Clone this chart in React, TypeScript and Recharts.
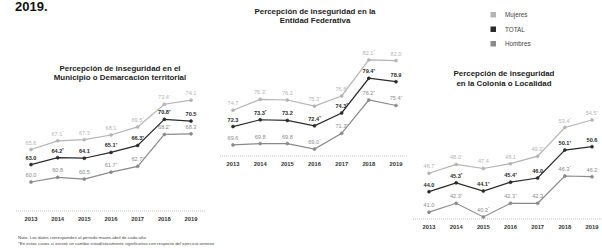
import React from 'react';
import { LineChart, Line, XAxis, YAxis, LabelList } from 'recharts';

const years = ['2013', '2014', '2015', '2016', '2017', '2018', '2019'];

// Municipio o Demarcación territorial
const municipioMujeres = [65.6, 67.1, 67.3, 68.1, 69.5, 73.4, 74.1];
const municipioTotal = [63.0, 64.2, 64.1, 65.1, 66.3, 70.8, 70.5];
const municipioHombres = [60.0, 60.8, 60.5, 61.7, 62.7, 68.2, 68.3];
const municipioMujeresSig = [0, 1, 0, 0, 1, 1, 0];
const municipioTotalSig = [0, 1, 0, 1, 1, 1, 0];
const municipioHombresSig = [0, 0, 0, 1, 1, 1, 0];

// Entidad Federativa
const entidadMujeres = [74.7, 76.3, 76.2, 75.3, 76.8, 82.1, 82.0];
const entidadTotal = [72.3, 73.3, 73.2, 72.4, 74.3, 79.4, 78.9];
const entidadHombres = [69.6, 69.8, 69.8, 69.0, 71.3, 76.2, 75.4];
const entidadMujeresSig = [0, 1, 0, 1, 1, 1, 0];
const entidadTotalSig = [0, 1, 0, 1, 1, 1, 0];
const entidadHombresSig = [0, 0, 0, 1, 1, 1, 1];

// Colonia o Localidad
const coloniaMujeres = [46.7, 48.0, 47.4, 48.1, 49.2, 53.4, 54.5];
const coloniaTotal = [44.0, 45.3, 44.1, 45.4, 46.0, 50.1, 50.6];
const coloniaHombres = [41.0, 42.3, 40.3, 42.3, 42.3, 46.3, 46.2];
const coloniaMujeresSig = [0, 1, 0, 0, 1, 1, 1];
const coloniaTotalSig = [0, 1, 1, 1, 0, 1, 0];
const coloniaHombresSig = [0, 1, 1, 1, 0, 1, 0];

const legendItems = ['Mujeres', 'TOTAL', 'Hombres'];

const FONT = '"Liberation Sans", Arial, sans-serif';
const C_MUJ = '#b4b4b4';
const C_TOT = '#2a2a2a';
const C_HOM = '#8a8a8a';
const legendColors = [C_MUJ, C_TOT, C_HOM];

const buildRows = (m: number[], t: number[], h: number[]) =>
  years.map((year, i) => ({ year, mujeres: m[i], total: t[i], hombres: h[i] }));

const makeLabel = (sig: number[], color: string, bold: boolean) => (props: any) => {
  const { x, y, value, index } = props;
  if (x == null || y == null) return null;
  return (
    <text
      x={x}
      y={y - 5}
      textAnchor="middle"
      fontSize={5.6}
      fontFamily={FONT}
      fontWeight={bold ? 'bold' : 'normal'}
      fill={color}
    >
      {Number(value).toFixed(1)}
      {sig[index] ? (
        <tspan fontSize={4.2} dy={-1.5}>
          *
        </tspan>
      ) : null}
    </text>
  );
};

const YearTick = (props: any) => {
  const { x, y, payload } = props;
  return (
    <text
      x={x}
      y={y + 9.5}
      textAnchor="middle"
      fontSize={5.8}
      fontWeight="bold"
      fontFamily={FONT}
      fill="#333"
    >
      {payload.value}
    </text>
  );
};

type PanelProps = {
  left: number;
  top: number;
  width: number;
  height: number;
  margin: { top: number; right: number; bottom: number; left: number };
  padding: { left: number; right: number };
  domain: [number, number];
  m: number[];
  t: number[];
  h: number[];
  mSig: number[];
  tSig: number[];
  hSig: number[];
};

const Panel = (p: PanelProps) => {
  const rows = buildRows(p.m, p.t, p.h);
  const series = [
    { key: 'mujeres', color: C_MUJ, sig: p.mSig, bold: false },
    { key: 'hombres', color: C_HOM, sig: p.hSig, bold: false },
    { key: 'total', color: C_TOT, sig: p.tSig, bold: true },
  ];
  return (
    <div style={{ position: 'absolute', left: p.left, top: p.top }}>
      <LineChart width={p.width} height={p.height} data={rows} margin={p.margin}>
        <XAxis
          dataKey="year"
          interval={0}
          tickLine={false}
          tickSize={0}
          tickMargin={0}
          height={14}
          padding={p.padding}
          axisLine={{ stroke: '#b0b0b0', strokeWidth: 0.8, strokeDasharray: '1 1' }}
          tick={<YearTick />}
        />
        <YAxis hide type="number" domain={p.domain} allowDataOverflow />
        {series.map((s) => (
          <Line
            key={s.key}
            dataKey={s.key}
            stroke={s.color}
            strokeWidth={1.2}
            dot={{ r: 1.5, fill: s.color, stroke: s.color, strokeWidth: 0.6 }}
            isAnimationActive={false}
          >
            <LabelList dataKey={s.key} content={makeLabel(s.sig, s.color, s.bold)} />
          </Line>
        ))}
      </LineChart>
    </div>
  );
};

const Title = ({ x, y, lines }: { x: number; y: number; lines: string[] }) => (
  <text x={x} y={y} textAnchor="middle" fontSize={7.9} fontWeight="bold" fontFamily={FONT} fill="#222">
    {lines.map((l, i) => (
      <tspan key={i} x={x} dy={i === 0 ? 0 : 9.8}>
        {l}
      </tspan>
    ))}
  </text>
);

export default function App() {
  return (
    <div
      style={{
        position: 'absolute',
        left: 0,
        top: 0,
        width: 602,
        height: 248,
        background: '#fff',
        overflow: 'hidden',
        fontFamily: FONT,
      }}
    >
      <svg width={602} height={248} style={{ position: 'absolute', left: 0, top: 0 }}>
        <text x={15} y={10.5} fontSize={13} fontWeight="bold" fontFamily={FONT} fill="#111">
          2019.
        </text>
        <Title x={120} y={70.5} lines={['Percepción de inseguridad en el', 'Municipio o Demarcación territorial']} />
        <Title x={315} y={13.5} lines={['Percepción de inseguridad en la', 'Entidad Federativa']} />
        <Title x={504} y={76} lines={['Percepción de inseguridad', 'en la Colonia o Localidad']} />
        {legendItems.map((name, i) => (
          <g key={name}>
            <rect x={490.5} y={12 + i * 14.5} width={5.5} height={5.5} fill={legendColors[i]} />
            <text x={505} y={17.3 + i * 14.5} fontSize={6.3} fontFamily={FONT} fill="#444">
              {name}
            </text>
          </g>
        ))}
        <text x={18} y={238.5} fontSize={4.4} fontFamily={FONT} fill="#444">
          Nota: Los datos corresponden al periodo marzo-abril de cada año.
        </text>
        <text x={18} y={245} fontSize={4.4} fontFamily={FONT} fill="#444">
          *En estos casos sí existió un cambio estadísticamente significativo con respecto del ejercicio anterior
        </text>
      </svg>
      <Panel
        left={0}
        top={85}
        width={215}
        height={140}
        margin={{ top: 5, right: 10, bottom: 0, left: 16 }}
        padding={{ left: 15, right: 14 }}
        domain={[55.0, 75.86]}
        m={municipioMujeres}
        t={municipioTotal}
        h={municipioHombres}
        mSig={municipioMujeresSig}
        tSig={municipioTotalSig}
        hSig={municipioHombresSig}
      />
      <Panel
        left={200}
        top={40}
        width={215}
        height={130}
        margin={{ top: 5, right: 7, bottom: 0, left: 20 }}
        padding={{ left: 13, right: 12 }}
        domain={[67.97, 84.29]}
        m={entidadMujeres}
        t={entidadTotal}
        h={entidadHombres}
        mSig={entidadMujeresSig}
        tSig={entidadTotalSig}
        hSig={entidadHombresSig}
      />
      <Panel
        left={400}
        top={95}
        width={202}
        height={138}
        margin={{ top: 5, right: 0, bottom: 0, left: 13 }}
        padding={{ left: 16, right: 10 }}
        domain={[40.0, 57.43]}
        m={coloniaMujeres}
        t={coloniaTotal}
        h={coloniaHombres}
        mSig={coloniaMujeresSig}
        tSig={coloniaTotalSig}
        hSig={coloniaHombresSig}
      />
    </div>
  );
}
